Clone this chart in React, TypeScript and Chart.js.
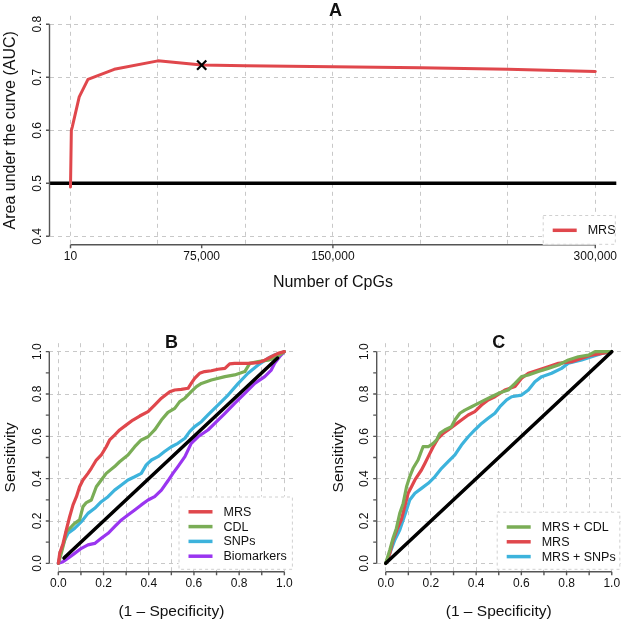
import React, { useEffect, useRef } from "react";
import { Chart, registerables } from "chart.js";

Chart.register(...registerables);

const FONT = '"Liberation Sans", Arial, Helvetica, sans-serif';
const TEXT = "#111111";
const AXIS = "#555555";
const GRID = "#c8c8c8";
const RED = "#E0474C";
const GREEN = "#7AAD56";
const BLUE = "#3DB3DC";
const PURPLE = "#9A35F0";
const BLACK = "#000000";

// ---------- Panel A ----------
const cpgCounts = [10, 500, 1000, 5000, 10000, 25000, 50000, 75000, 100000, 150000, 200000, 250000, 300000];
const aucMRS = [0.493, 0.6, 0.606, 0.663, 0.696, 0.715, 0.731, 0.723, 0.722, 0.72, 0.718, 0.715, 0.711];
const selectedCpGs = [75000];
const selectedAUC = [0.723];
const chanceAUC = 0.5;
const aXTickValues = [10, 75000, 150000, 300000];
const aXTickLabels = ["10", "75,000", "150,000", "300,000"];
const aXGrid = [0, 50000, 100000, 150000, 200000, 250000, 300000];
const aYTicks = [0.4, 0.5, 0.6, 0.7, 0.8];
const aYLabels = ["0.4", "0.5", "0.6", "0.7", "0.8"];

// ---------- Panel B ----------
const mrsB_fpr = [0, 0.006, 0.021, 0.035, 0.05, 0.065, 0.08, 0.094, 0.109, 0.131, 0.146, 0.168, 0.19, 0.212, 0.227, 0.249, 0.271, 0.301, 0.33, 0.36, 0.397, 0.426, 0.456, 0.493, 0.515, 0.544, 0.574, 0.588, 0.603, 0.625, 0.647, 0.677, 0.706, 0.737, 0.758, 0.78, 0.839, 0.884, 0.913, 0.942, 0.972, 1];
const mrsB_tpr = [0, 0.047, 0.094, 0.157, 0.22, 0.276, 0.315, 0.362, 0.394, 0.425, 0.449, 0.488, 0.512, 0.551, 0.583, 0.606, 0.63, 0.654, 0.677, 0.696, 0.717, 0.748, 0.78, 0.811, 0.819, 0.822, 0.827, 0.85, 0.874, 0.898, 0.906, 0.91, 0.917, 0.921, 0.942, 0.945, 0.945, 0.948, 0.96, 0.976, 0.992, 1];
const cdlB_fpr = [0, 0.013, 0.028, 0.035, 0.058, 0.072, 0.094, 0.109, 0.124, 0.146, 0.168, 0.19, 0.212, 0.249, 0.271, 0.308, 0.338, 0.367, 0.397, 0.426, 0.456, 0.485, 0.515, 0.537, 0.56, 0.588, 0.611, 0.633, 0.677, 0.737, 0.78, 0.825, 0.847, 0.884, 0.928, 0.957, 0.979, 1];
const cdlB_tpr = [0, 0.047, 0.11, 0.15, 0.173, 0.189, 0.205, 0.268, 0.287, 0.299, 0.362, 0.394, 0.425, 0.457, 0.48, 0.512, 0.551, 0.583, 0.598, 0.63, 0.677, 0.713, 0.732, 0.764, 0.78, 0.811, 0.835, 0.85, 0.866, 0.882, 0.89, 0.906, 0.945, 0.953, 0.96, 0.969, 0.984, 1];
const snpB_fpr = [0, 0.013, 0.028, 0.043, 0.072, 0.102, 0.131, 0.161, 0.19, 0.22, 0.249, 0.279, 0.308, 0.338, 0.367, 0.389, 0.412, 0.441, 0.47, 0.5, 0.529, 0.56, 0.581, 0.603, 0.633, 0.662, 0.706, 0.751, 0.796, 0.839, 0.884, 0.928, 0.957, 1];
const snpB_tpr = [0, 0.063, 0.11, 0.142, 0.165, 0.197, 0.236, 0.26, 0.291, 0.315, 0.346, 0.37, 0.394, 0.409, 0.425, 0.465, 0.488, 0.504, 0.528, 0.551, 0.567, 0.591, 0.622, 0.646, 0.669, 0.701, 0.748, 0.795, 0.85, 0.898, 0.937, 0.969, 0.984, 1];
const bioB_fpr = [0, 0.021, 0.043, 0.072, 0.102, 0.131, 0.161, 0.19, 0.22, 0.249, 0.279, 0.308, 0.338, 0.367, 0.397, 0.426, 0.456, 0.485, 0.507, 0.529, 0.56, 0.588, 0.618, 0.662, 0.692, 0.737, 0.78, 0.825, 0.869, 0.913, 0.942, 0.957, 0.979, 1];
const bioB_tpr = [0, 0.008, 0.024, 0.047, 0.071, 0.087, 0.094, 0.118, 0.142, 0.173, 0.205, 0.228, 0.252, 0.276, 0.299, 0.315, 0.346, 0.39, 0.425, 0.457, 0.504, 0.567, 0.598, 0.63, 0.661, 0.709, 0.756, 0.803, 0.85, 0.882, 0.913, 0.945, 0.976, 1];
const diagB = [0.025, 0.97];

// ---------- Panel C ----------
const mrsCdlC_fpr = [0, 0.018, 0.032, 0.047, 0.062, 0.077, 0.092, 0.106, 0.121, 0.143, 0.165, 0.188, 0.21, 0.225, 0.239, 0.261, 0.291, 0.306, 0.328, 0.35, 0.38, 0.409, 0.439, 0.468, 0.505, 0.542, 0.572, 0.601, 0.631, 0.675, 0.719, 0.764, 0.808, 0.852, 0.897, 0.926, 1];
const mrsCdlC_tpr = [0, 0.063, 0.118, 0.165, 0.236, 0.283, 0.362, 0.409, 0.449, 0.488, 0.551, 0.551, 0.567, 0.583, 0.614, 0.63, 0.646, 0.677, 0.709, 0.724, 0.74, 0.756, 0.772, 0.787, 0.806, 0.819, 0.85, 0.882, 0.89, 0.906, 0.921, 0.937, 0.961, 0.976, 0.984, 1, 1];
const mrsC_fpr = [0, 0.018, 0.032, 0.055, 0.069, 0.084, 0.099, 0.114, 0.129, 0.143, 0.158, 0.173, 0.188, 0.21, 0.232, 0.254, 0.276, 0.306, 0.335, 0.365, 0.394, 0.424, 0.453, 0.483, 0.505, 0.527, 0.572, 0.601, 0.631, 0.675, 0.719, 0.764, 0.823, 0.867, 0.911, 0.956, 1];
const mrsC_tpr = [0, 0.047, 0.11, 0.173, 0.205, 0.268, 0.331, 0.362, 0.394, 0.417, 0.441, 0.472, 0.504, 0.551, 0.591, 0.614, 0.63, 0.654, 0.677, 0.701, 0.717, 0.748, 0.772, 0.787, 0.803, 0.819, 0.835, 0.874, 0.898, 0.913, 0.929, 0.945, 0.953, 0.969, 0.984, 0.992, 1];
const mrsSnpC_fpr = [0, 0.018, 0.04, 0.062, 0.077, 0.092, 0.106, 0.129, 0.158, 0.188, 0.217, 0.247, 0.276, 0.306, 0.335, 0.365, 0.394, 0.424, 0.453, 0.483, 0.505, 0.535, 0.557, 0.601, 0.631, 0.66, 0.69, 0.734, 0.778, 0.808, 0.867, 0.911, 0.956, 1];
const mrsSnpC_tpr = [0, 0.047, 0.11, 0.157, 0.205, 0.252, 0.299, 0.331, 0.354, 0.378, 0.409, 0.449, 0.48, 0.512, 0.559, 0.598, 0.63, 0.661, 0.685, 0.709, 0.74, 0.772, 0.787, 0.795, 0.819, 0.858, 0.882, 0.898, 0.921, 0.945, 0.961, 0.976, 0.992, 1];
const diagC = [0, 1];

// ---------- shared ROC axes ----------
const rocTicks = [0, 0.1, 0.2, 0.3, 0.4, 0.5, 0.6, 0.7, 0.8, 0.9, 1];
const rocLabelValues = [0, 0.2, 0.4, 0.6, 0.8, 1];
const rocLabels = ["0.0", "0.2", "0.4", "0.6", "0.8", "1.0"];

interface Series { xs: number[]; ys: number[]; color: string; width: number; }
interface LegendItem { label: string; color: string; }
interface PanelSpec {
  area: { left: number; top: number; right: number; bottom: number };
  xData: [number, number]; yData: [number, number];
  xGrid: number[]; yGrid: number[];
  xTicks: number[]; yTicks: number[];
  xLabelValues: number[]; xLabels: string[];
  yLabelValues: number[]; yLabels: string[];
  xAxisSpan: [number, number]; yAxisSpan: [number, number];
  series: Series[];
  marker?: { xs: number[]; ys: number[] };
  legend: LegendItem[];
  legendBox: { left: number; top: number; bottom: number };
  title: string; titlePos: [number, number];
  xTitle: string; xTitleY: number;
  yTitle: string; yTitleX: number;
  axisTitleSize: number;
}

const W = 625;
const H = 623;

function ext(r: [number, number]): [number, number] {
  const d = (r[1] - r[0]) * 0.04;
  return [r[0] - d, r[1] + d];
}

function rPlugin(p: PanelSpec) {
  return {
    id: "rstyle",
    afterDraw(chart: any) {
      const ctx: CanvasRenderingContext2D = chart.ctx;
      const xs = chart.scales.x;
      const ys = chart.scales.y;
      const { left, right, bottom } = chart.chartArea;
      ctx.save();
      ctx.setLineDash([]);
      ctx.strokeStyle = AXIS;
      ctx.lineWidth = 1.4;
      ctx.lineCap = "butt";
      // x axis
      ctx.beginPath();
      ctx.moveTo(xs.getPixelForValue(p.xAxisSpan[0]), bottom);
      ctx.lineTo(xs.getPixelForValue(p.xAxisSpan[1]), bottom);
      for (const t of p.xTicks) {
        const px = xs.getPixelForValue(t);
        ctx.moveTo(px, bottom);
        ctx.lineTo(px, bottom + 3.5);
      }
      // y axis
      ctx.moveTo(left, ys.getPixelForValue(p.yAxisSpan[0]));
      ctx.lineTo(left, ys.getPixelForValue(p.yAxisSpan[1]));
      for (const t of p.yTicks) {
        const py = ys.getPixelForValue(t);
        ctx.moveTo(left, py);
        ctx.lineTo(left - 3.5, py);
      }
      ctx.stroke();

      // tick labels
      ctx.fillStyle = TEXT;
      ctx.font = `12px ${FONT}`;
      ctx.textAlign = "center";
      ctx.textBaseline = "middle";
      p.xLabelValues.forEach((v, i) => {
        ctx.fillText(p.xLabels[i], xs.getPixelForValue(v), bottom + 11.5);
      });
      p.yLabelValues.forEach((v, i) => {
        ctx.save();
        ctx.translate(left - 12, ys.getPixelForValue(v));
        ctx.rotate(-Math.PI / 2);
        ctx.fillText(p.yLabels[i], 0, 0);
        ctx.restore();
      });

      // legend
      const lb = p.legendBox;
      const lr = right - 0.5;
      ctx.fillStyle = "#ffffff";
      ctx.fillRect(lb.left, lb.top, lr - lb.left, lb.bottom - lb.top);
      ctx.strokeStyle = "#d0d0d0";
      ctx.lineWidth = 1;
      ctx.setLineDash([3, 3]);
      ctx.strokeRect(lb.left + 0.5, lb.top + 0.5, lr - lb.left - 1, lb.bottom - lb.top - 1);
      ctx.setLineDash([]);
      ctx.font = `12.5px ${FONT}`;
      ctx.textAlign = "left";
      p.legend.forEach((it, i) => {
        const y = lb.top + 15.3 + i * 14.8;
        ctx.strokeStyle = it.color;
        ctx.lineWidth = 3.5;
        ctx.beginPath();
        ctx.moveTo(lb.left + 10, y);
        ctx.lineTo(lb.left + 34, y);
        ctx.stroke();
        ctx.fillStyle = TEXT;
        ctx.fillText(it.label, lb.left + 45, y + 0.5);
      });

      // titles
      ctx.fillStyle = TEXT;
      ctx.textAlign = "center";
      ctx.font = `bold 18px ${FONT}`;
      ctx.fillText(p.title, p.titlePos[0], p.titlePos[1]);
      ctx.font = `${p.axisTitleSize}px ${FONT}`;
      ctx.fillText(p.xTitle, (left + right) / 2, p.xTitleY);
      ctx.save();
      ctx.translate(p.yTitleX, (chart.chartArea.top + bottom) / 2);
      ctx.rotate(-Math.PI / 2);
      ctx.fillText(p.yTitle, 0, 0);
      ctx.restore();
      ctx.restore();
    },
  };
}

function buildChart(canvas: HTMLCanvasElement, p: PanelSpec): Chart {
  const datasets: any[] = p.series.map((s) => ({
    data: s.xs.map((x, i) => ({ x, y: s.ys[i] })),
    showLine: true,
    borderColor: s.color,
    backgroundColor: s.color,
    borderWidth: s.width,
    pointRadius: 0,
    pointHoverRadius: 0,
    fill: false,
    tension: 0,
    borderCapStyle: "round",
    borderJoinStyle: "round",
  }));
  if (p.marker) {
    const m = p.marker;
    datasets.unshift({
      data: m.xs.map((x, i) => ({ x, y: m.ys[i] })),
      showLine: false,
      pointStyle: "crossRot",
      pointRadius: 6.5,
      borderColor: BLACK,
      backgroundColor: BLACK,
      borderWidth: 2.2,
    });
  }
  const xr = ext(p.xData);
  const yr = ext(p.yData);
  const scaleCommon = (gridVals: number[], horiz: boolean) => ({
    type: "linear",
    afterBuildTicks: (s: any) => {
      s.ticks = gridVals.map((v) => ({ value: v }));
    },
    afterFit: (s: any) => {
      if (horiz) s.height = 0;
      else s.width = 0;
    },
    ticks: { display: false },
    grid: { color: GRID, lineWidth: 1, drawTicks: false },
    border: { display: false, dash: [4, 4] },
  });
  return new Chart(canvas, {
    type: "scatter",
    data: { datasets },
    options: {
      responsive: false,
      animation: false,
      devicePixelRatio: 1,
      events: [],
      layout: {
        padding: {
          left: p.area.left,
          right: W - p.area.right,
          top: p.area.top,
          bottom: H - p.area.bottom,
        },
      },
      plugins: { legend: { display: false }, tooltip: { enabled: false }, title: { display: false } },
      scales: {
        x: { ...scaleCommon(p.xGrid, true), min: xr[0], max: xr[1] } as any,
        y: { ...scaleCommon(p.yGrid, false), min: yr[0], max: yr[1] } as any,
      },
    },
    plugins: [rPlugin(p) as any],
  });
}

const panelA: PanelSpec = {
  area: { left: 49.5, top: 15.8, right: 621.8, bottom: 244.8 },
  xData: [10, 300000],
  yData: [0.4, 0.8],
  xGrid: aXGrid,
  yGrid: aYTicks,
  xTicks: aXTickValues,
  yTicks: aYTicks,
  xLabelValues: aXTickValues,
  xLabels: aXTickLabels,
  yLabelValues: aYTicks,
  yLabels: aYLabels,
  xAxisSpan: [10, 300000],
  yAxisSpan: [0.4, 0.8],
  series: [
    { xs: cpgCounts, ys: aucMRS, color: RED, width: 3 },
    { xs: ext([10, 300000]), ys: [chanceAUC, chanceAUC], color: BLACK, width: 3.5 },
  ],
  marker: { xs: selectedCpGs, ys: selectedAUC },
  legend: [{ label: "MRS", color: RED }],
  legendBox: { left: 542.7, top: 215, bottom: 244.8 },
  title: "A",
  titlePos: [335.6, 11.5],
  xTitle: "Number of CpGs",
  xTitleY: 283,
  yTitle: "Area under the curve (AUC)",
  yTitleX: 11,
  axisTitleSize: 16,
};

const rocBase = {
  xData: [0, 1] as [number, number],
  yData: [0, 1] as [number, number],
  xGrid: rocTicks,
  yGrid: rocLabelValues,
  xTicks: rocTicks,
  yTicks: rocTicks,
  xLabelValues: rocLabelValues,
  xLabels: rocLabels,
  yLabelValues: rocLabelValues,
  yLabels: rocLabels,
  xAxisSpan: [0, 1] as [number, number],
  yAxisSpan: [0, 1] as [number, number],
  xTitle: "(1 \u2013 Specificity)",
  xTitleY: 611.7,
  yTitle: "Sensitivity",
  axisTitleSize: 15.5,
};

const panelB: PanelSpec = {
  ...rocBase,
  area: { left: 49.3, top: 343.2, right: 293.4, bottom: 571.8 },
  series: [
    { xs: diagB, ys: diagB, color: BLACK, width: 3.5 },
    { xs: mrsB_fpr, ys: mrsB_tpr, color: RED, width: 3.2 },
    { xs: cdlB_fpr, ys: cdlB_tpr, color: GREEN, width: 3.2 },
    { xs: snpB_fpr, ys: snpB_tpr, color: BLUE, width: 3.2 },
    { xs: bioB_fpr, ys: bioB_tpr, color: PURPLE, width: 3.2 },
  ],
  legend: [
    { label: "MRS", color: RED },
    { label: "CDL", color: GREEN },
    { label: "SNPs", color: BLUE },
    { label: "Biomarkers", color: PURPLE },
  ],
  legendBox: { left: 178.5, top: 496.5, bottom: 569.8 },
  title: "B",
  titlePos: [171.4, 342.7],
  yTitleX: 11,
};

const panelC: PanelSpec = {
  ...rocBase,
  area: { left: 376.7, top: 343.2, right: 620.8, bottom: 571.8 },
  series: [
    { xs: diagC, ys: diagC, color: BLACK, width: 3.5 },
    { xs: mrsCdlC_fpr, ys: mrsCdlC_tpr, color: GREEN, width: 3.2 },
    { xs: mrsC_fpr, ys: mrsC_tpr, color: RED, width: 3.2 },
    { xs: mrsSnpC_fpr, ys: mrsSnpC_tpr, color: BLUE, width: 3.2 },
  ],
  legend: [
    { label: "MRS + CDL", color: GREEN },
    { label: "MRS", color: RED },
    { label: "MRS + SNPs", color: BLUE },
  ],
  legendBox: { left: 496.7, top: 511.7, bottom: 569.8 },
  title: "C",
  titlePos: [498.7, 342.7],
  yTitleX: 338.5,
};

export default function App() {
  const refA = useRef<HTMLCanvasElement>(null);
  const refB = useRef<HTMLCanvasElement>(null);
  const refC = useRef<HTMLCanvasElement>(null);

  useEffect(() => {
    const charts: Chart[] = [];
    if (refA.current) charts.push(buildChart(refA.current, panelA));
    if (refB.current) charts.push(buildChart(refB.current, panelB));
    if (refC.current) charts.push(buildChart(refC.current, panelC));
    return () => charts.forEach((c) => c.destroy());
  }, []);

  const cs: React.CSSProperties = { position: "absolute", left: 0, top: 0, width: W, height: H };
  return (
    <div style={{ position: "absolute", left: 0, top: 0, width: W, height: H, background: "#ffffff" }}>
      <canvas ref={refA} width={W} height={H} style={cs} />
      <canvas ref={refB} width={W} height={H} style={cs} />
      <canvas ref={refC} width={W} height={H} style={cs} />
    </div>
  );
}
